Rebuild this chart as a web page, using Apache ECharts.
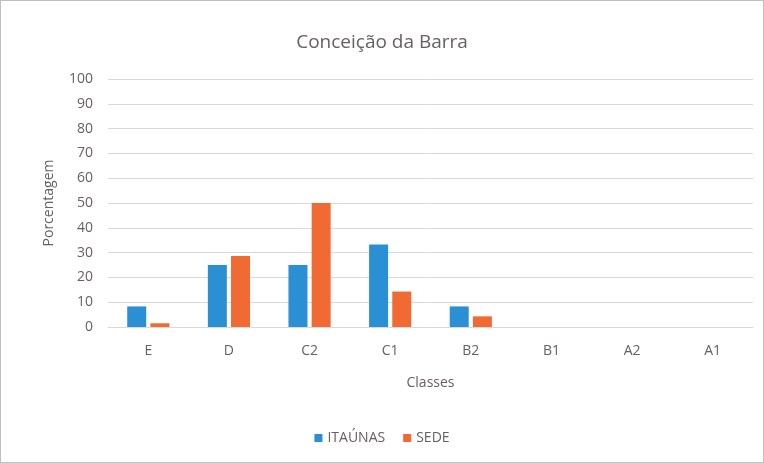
<!DOCTYPE html>
<html>
<head>
<meta charset="utf-8">
<script src="https://cdn.jsdelivr.net/npm/echarts@6/dist/echarts.min.js"></script>
<style>
  html, body { margin: 0; padding: 0; background: #fff; }
  #chart { width: 762px; height: 461px; border: 1px solid #bfbfbf; }
</style>
</head>
<body>
<div id="chart"></div>
<script>
var categorias = ['E', 'D', 'C2', 'C1', 'B2', 'B1', 'A2', 'A1'];
var itaunas = [8.3, 25, 25, 33.3, 8.3, 0, 0, 0];
var sede = [1.5, 28.6, 50, 14.3, 4.3, 0, 0, 0];

var chart = echarts.init(document.getElementById('chart'));
var fonte = '"Open Sans", Lato, sans-serif';
var cinza = '#666161';

var option = {
    title: {
        text: 'Conceição da Barra',
        left: 'center',
        top: 27,
        textStyle: { color: cinza, fontSize: 19, fontWeight: 'normal', fontFamily: fonte }
    },
    legend: {
        bottom: 12,
        left: 'center',
        itemWidth: 8,
        itemHeight: 8,
        itemGap: 18,
        icon: 'rect',
        textStyle: { color: cinza, fontSize: 14, fontFamily: fonte },
        data: ['ITAÚNAS', 'SEDE']
    },
    grid: { left: 107, right: 10, top: 78, bottom: 135 },
    xAxis: {
        type: 'category',
        data: categorias,
        name: 'Classes',
        nameLocation: 'middle',
        nameGap: 49,
        nameTextStyle: { color: cinza, fontSize: 14, fontFamily: fonte },
        axisTick: { show: false },
        axisLine: { lineStyle: { color: '#d9d9d9' } },
        axisLabel: { color: cinza, fontSize: 14, margin: 17, fontFamily: fonte }
    },
    yAxis: {
        type: 'value',
        min: 0,
        max: 100,
        interval: 10,
        name: 'Porcentagem',
        nameLocation: 'middle',
        nameGap: 52,
        nameTextStyle: { color: cinza, fontSize: 14, fontFamily: fonte },
        axisLabel: { color: cinza, fontSize: 14, margin: 15, fontFamily: fonte },
        splitLine: { lineStyle: { color: '#d9d9d9' } }
    },
    series: [
        {
            name: 'ITAÚNAS',
            type: 'bar',
            data: itaunas,
            barWidth: 19,
            barGap: '22%',
            itemStyle: { color: '#2b8fd3' }
        },
        {
            name: 'SEDE',
            type: 'bar',
            data: sede,
            barWidth: 19,
            itemStyle: { color: '#f26a33' }
        }
    ]
};

chart.setOption(option);
</script>
</body>
</html>
